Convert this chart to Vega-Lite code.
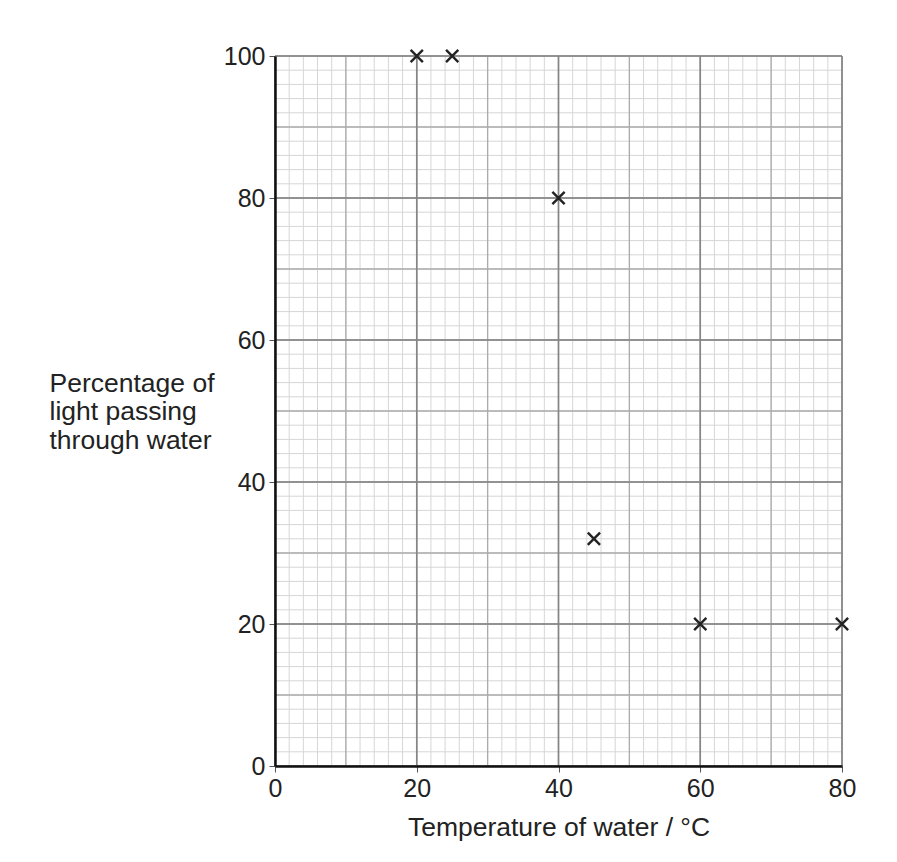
{
  "$schema": "https://vega.github.io/schema/vega-lite/v6.json",
  "width": 567,
  "height": 710,
  "autosize": {"type": "none"},
  "padding": {"left": 275, "top": 56, "right": 55, "bottom": 96},
  "background": "white",
  "config": {
    "view": {"stroke": null},
    "font": "Liberation Sans",
    "axis": {
      "grid": false,
      "tickColor": "#555555",
      "tickSize": 6,
      "tickWidth": 1,
      "labelFont": "Liberation Sans",
      "labelFontSize": 25,
      "labelColor": "#222222",
      "labelPadding": 4,
      "labelFlush": false,
      "labelOverlap": false,
      "titleFont": "Liberation Sans",
      "titleFontSize": 26.5,
      "titleFontWeight": "normal",
      "titleColor": "#222222"
    },
    "axisX": {"titlePadding": 13},
    "axisY": {
      "titleAngle": 0,
      "titleAlign": "left",
      "titleBaseline": "middle",
      "titleX": -226,
      "titleY": 327,
      "titleLineHeight": 28.5
    }
  },
  "datasets": {
    "gx": [
      {"v": 0}, {"v": 2}, {"v": 4}, {"v": 6}, {"v": 8}, {"v": 10}, {"v": 12}, {"v": 14}, {"v": 16}, {"v": 18},
      {"v": 20}, {"v": 22}, {"v": 24}, {"v": 26}, {"v": 28}, {"v": 30}, {"v": 32}, {"v": 34}, {"v": 36}, {"v": 38},
      {"v": 40}, {"v": 42}, {"v": 44}, {"v": 46}, {"v": 48}, {"v": 50}, {"v": 52}, {"v": 54}, {"v": 56}, {"v": 58},
      {"v": 60}, {"v": 62}, {"v": 64}, {"v": 66}, {"v": 68}, {"v": 70}, {"v": 72}, {"v": 74}, {"v": 76}, {"v": 78},
      {"v": 80}
    ],
    "gy": [
      {"v": 0}, {"v": 2}, {"v": 4}, {"v": 6}, {"v": 8}, {"v": 10}, {"v": 12}, {"v": 14}, {"v": 16}, {"v": 18},
      {"v": 20}, {"v": 22}, {"v": 24}, {"v": 26}, {"v": 28}, {"v": 30}, {"v": 32}, {"v": 34}, {"v": 36}, {"v": 38},
      {"v": 40}, {"v": 42}, {"v": 44}, {"v": 46}, {"v": 48}, {"v": 50}, {"v": 52}, {"v": 54}, {"v": 56}, {"v": 58},
      {"v": 60}, {"v": 62}, {"v": 64}, {"v": 66}, {"v": 68}, {"v": 70}, {"v": 72}, {"v": 74}, {"v": 76}, {"v": 78},
      {"v": 80}, {"v": 82}, {"v": 84}, {"v": 86}, {"v": 88}, {"v": 90}, {"v": 92}, {"v": 94}, {"v": 96}, {"v": 98},
      {"v": 100}
    ],
    "points": [
      {"temp": 20, "pct": 100},
      {"temp": 25, "pct": 100},
      {"temp": 40, "pct": 80},
      {"temp": 45, "pct": 32},
      {"temp": 60, "pct": 20},
      {"temp": 80, "pct": 20}
    ]
  },
  "layer": [
    {
      "data": {"name": "gx"},
      "mark": {"type": "rule", "color": "#d6d6d6", "strokeWidth": 1},
      "encoding": {
        "x": {"field": "v", "type": "quantitative", "scale": {"domain": [0, 80], "nice": false}, "title": "Temperature of water / °C", "axis": {"values": [0, 20, 40, 60, 80], "domain": true, "domainColor": "#111111", "domainWidth": 2.5, "zindex": 2}}
      }
    },
    {
      "data": {"name": "gy"},
      "mark": {"type": "rule", "color": "#d6d6d6", "strokeWidth": 1},
      "encoding": {
        "y": {"field": "v", "type": "quantitative", "scale": {"domain": [0, 100], "nice": false}, "title": ["Percentage of", "light passing", "through water"], "axis": {"values": [0, 20, 40, 60, 80, 100], "domain": true, "domainColor": "#111111", "domainWidth": 2.5, "zindex": 2}}
      }
    },
    {
      "data": {"name": "gx"},
      "transform": [{"filter": "datum.v % 10 == 0"}],
      "mark": {"type": "rule", "color": "#ababab", "strokeWidth": 1.3},
      "encoding": {
        "x": {"field": "v", "type": "quantitative", "title": "Temperature of water / °C", "axis": {"values": [0, 20, 40, 60, 80], "domain": true, "domainColor": "#111111", "domainWidth": 2.5, "zindex": 2}}
      }
    },
    {
      "data": {"name": "gy"},
      "transform": [{"filter": "datum.v % 10 == 0"}],
      "mark": {"type": "rule", "color": "#ababab", "strokeWidth": 1.3},
      "encoding": {
        "y": {"field": "v", "type": "quantitative", "title": ["Percentage of", "light passing", "through water"], "axis": {"values": [0, 20, 40, 60, 80, 100], "domain": true, "domainColor": "#111111", "domainWidth": 2.5, "zindex": 2}}
      }
    },
    {
      "data": {"name": "gx"},
      "transform": [{"filter": "datum.v % 20 == 0"}],
      "mark": {"type": "rule", "color": "#858585", "strokeWidth": 1.6},
      "encoding": {
        "x": {"field": "v", "type": "quantitative", "title": "Temperature of water / °C", "axis": {"values": [0, 20, 40, 60, 80], "domain": true, "domainColor": "#111111", "domainWidth": 2.5, "zindex": 2}}
      }
    },
    {
      "data": {"name": "gy"},
      "transform": [{"filter": "datum.v % 20 == 0"}],
      "mark": {"type": "rule", "color": "#858585", "strokeWidth": 1.6},
      "encoding": {
        "y": {"field": "v", "type": "quantitative", "title": ["Percentage of", "light passing", "through water"], "axis": {"values": [0, 20, 40, 60, 80, 100], "domain": true, "domainColor": "#111111", "domainWidth": 2.5, "zindex": 2}}
      }
    },
    {
      "data": {"name": "points"},
      "mark": {"type": "point", "shape": "M-1,-1L1,1M-1,1L1,-1", "filled": false, "size": 150, "strokeWidth": 2.4, "color": "#222222", "opacity": 1, "clip": false},
      "encoding": {
        "x": {"field": "temp", "type": "quantitative", "title": "Temperature of water / °C", "axis": {"values": [0, 20, 40, 60, 80], "domain": true, "domainColor": "#111111", "domainWidth": 2.5, "zindex": 2}},
        "y": {"field": "pct", "type": "quantitative", "title": ["Percentage of", "light passing", "through water"], "axis": {"values": [0, 20, 40, 60, 80, 100], "domain": true, "domainColor": "#111111", "domainWidth": 2.5, "zindex": 2}}
      }
    }
  ]
}
